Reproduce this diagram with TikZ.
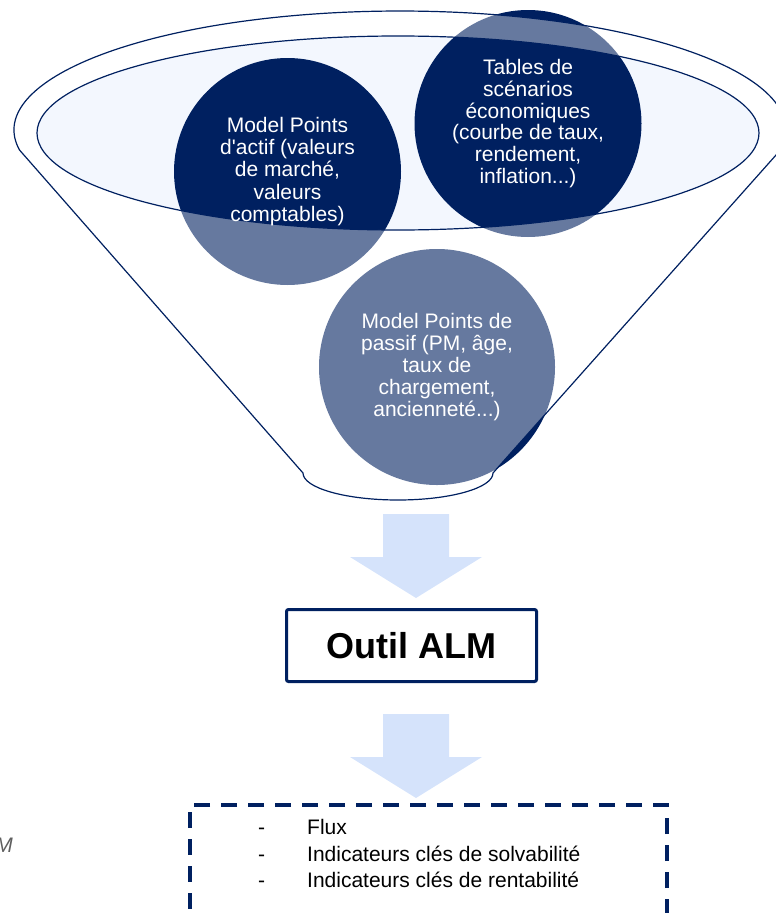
\documentclass[tikz,border=0pt]{standalone}
\usepackage{fontspec}
\setmainfont{Liberation Sans}
\usepackage{xcolor}

\definecolor{navy}{RGB}{0,32,96}
\definecolor{mouthfill}{RGB}{243,247,254}
\definecolor{arrowblue}{RGB}{213,227,251}
\definecolor{legendgray}{RGB}{95,95,95}

\begin{document}
\begin{tikzpicture}[
    x=1pt,
    y=-1pt,
    bubble/.style={
        circle,
        minimum size=226pt,
        inner sep=0pt,
        align=center,
        text=white
    },
    funnelline/.style={
        draw=navy,
        line width=1.2pt
    },
    bigarrow/.style={
        fill=arrowblue
    },
    outilbox/.style={
        rectangle,
        draw=navy,
        line width=3pt,
        rounded corners=2pt,
        minimum width=250pt,
        minimum height=72pt,
        inner sep=0pt,
        font=\fontsize{36}{40}\selectfont\bfseries
    },
    resbox/.style={
        rectangle,
        draw=navy,
        line width=4pt,
        dash pattern=on 16pt off 11pt,
        minimum width=477pt,
        minimum height=200pt
    },
    liste/.style={
        align=left,
        inner sep=0pt,
        font=\fontsize{21}{26.5}\selectfont
    }
]
    \useasboundingbox (0,0) rectangle (776,913);
    \clip (0,0) rectangle (776,913);

    % Funnel mouth
    \fill[mouthfill] (398,133) ellipse[x radius=361, y radius=97];

    % Circles
    \coordinate (actifc) at (287.5,171.5);
    \coordinate (tablesc) at (528,123.5);
    \coordinate (passifc) at (437,367);
    \fill[navy] (actifc) circle[radius=113.5];
    \fill[navy] (tablesc) circle[radius=113.5];
    \fill[navy] (passifc) circle[radius=118];

    % Funnel body (see-through, over the circles)
    \fill[white, fill opacity=0.4, even odd rule]
        (19.5,150) arc[start angle=170.33, end angle=369.67, x radius=386, y radius=119]
        -- (493,473) arc[start angle=0, end angle=180, x radius=95, y radius=27] -- cycle
        (398,133) ellipse[x radius=361, y radius=97];
    \draw[funnelline]
        (19.5,150) arc[start angle=170.33, end angle=369.67, x radius=386, y radius=119]
        -- (493,473) arc[start angle=0, end angle=180, x radius=95, y radius=27] -- cycle;
    \draw[funnelline] (398,133) ellipse[x radius=361, y radius=97];

    % Circle texts
    \node[bubble, font=\fontsize{21}{22.2}\selectfont] (actif) at (actifc)
        {Model Points\\d\textquotesingle actif (valeurs\\de marché,\\valeurs\\comptables)};
    \node[bubble, font=\fontsize{21}{21.7}\selectfont] (tables) at (tablesc)
        {Tables de\\scénarios\\économiques\\(courbe de taux,\\rendement,\\inflation...)};
    \node[bubble, font=\fontsize{21}{22.2}\selectfont] (passif) at (passifc)
        {Model Points de\\passif (PM, âge,\\taux de\\chargement,\\ancienneté...)};

    % Arrows
    \fill[bigarrow] (383,514) -- (449,514) -- (449,557) -- (482,557) -- (416,598)
        -- (350,557) -- (383,557) -- cycle;
    \fill[bigarrow] (383,714) -- (449,714) -- (449,757) -- (482,757) -- (416,798)
        -- (350,757) -- (383,757) -- cycle;

    % Tool and results
    \node[outilbox] (outil) at (411.5,645.5) {Outil ALM};
    \node[resbox, anchor=north] (resultats) at (428.5,803) {};
    \node[liste, anchor=north west] (indicateurs) at (258,819.5)
        {\makebox[49pt][l]{-}Flux\\
         \makebox[49pt][l]{-}Indicateurs clés de solvabilité\\
         \makebox[49pt][l]{-}Indicateurs clés de rentabilité};

    \node[anchor=base east, inner sep=0pt, text=legendgray,
          font=\fontsize{21}{24}\selectfont\itshape] (legende) at (13,852) {M};

\end{tikzpicture}
\end{document}
